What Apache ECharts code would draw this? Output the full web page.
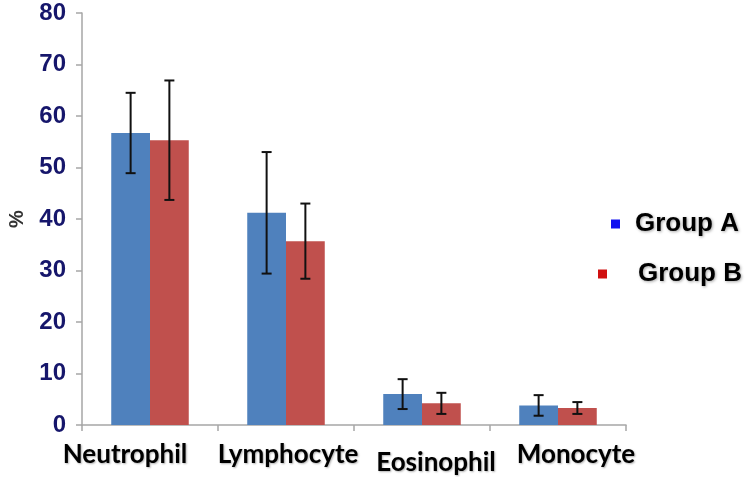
<!DOCTYPE html>
<html>
<head>
<meta charset="utf-8">
<script src="https://cdn.jsdelivr.net/npm/echarts@6/dist/echarts.min.js"></script>
<style>html,body{margin:0;padding:0;background:#fff}#c{width:750px;height:477px}</style>
</head>
<body>
<div id="c"></div>
<script>
const categories = ['Neutrophil', 'Lymphocyte', 'Eosinophil', 'Monocyte'];
const groupA = [56.7, 41.2, 6.0, 3.8];
const groupB = [55.3, 35.7, 4.2, 3.3];
const errA = [7.8, 11.8, 2.9, 2.0];
const errB = [11.6, 7.3, 2.05, 1.15];
const yTicks = [0, 10, 20, 30, 40, 50, 60, 70, 80];

const GAP = 0.43;
// per-label offsets (horizontal shift, vertical shift) to mimic the reference placement
const labelShift = [[-25, 0], [2, 0], [14, 4], [18, -1]];

function errorSeries(name, vals, errs, sign) {
  return {
    type: 'custom',
    name: name,
    z: 10,
    encode: { x: 0, y: 1 },
    data: vals.map((v, k) => [k, v, errs[k]]),
    renderItem: function (params, api) {
      const i = api.value(0), v = api.value(1), e = api.value(2);
      const band = api.size([1, 0])[0];
      const barW = band * (1 - GAP) / 2;
      const dx = sign * barW / 2;
      const t = api.coord([i, v + e]);
      const b = api.coord([i, v - e]);
      const x = t[0] + dx;
      const cap = 5;
      const st = { stroke: '#111', lineWidth: 2 };
      return {
        type: 'group',
        children: [
          { type: 'line', shape: { x1: x, y1: t[1], x2: x, y2: b[1] }, style: st },
          { type: 'line', shape: { x1: x - cap, y1: t[1], x2: x + cap, y2: t[1] }, style: st },
          { type: 'line', shape: { x1: x - cap, y1: b[1], x2: x + cap, y2: b[1] }, style: st }
        ]
      };
    }
  };
}

const legendText = {
  fontFamily: 'Liberation Sans', fontWeight: 'bold', fontSize: 26, color: '#000',
  textShadowColor: 'rgba(0,0,0,0.35)', textShadowBlur: 3, textShadowOffsetX: 1, textShadowOffsetY: 1
};

const option = {
  animation: false,
  backgroundColor: '#fff',
  grid: { left: 82, right: 124, top: 13, bottom: 52, containLabel: false, outerBoundsMode: 'none' },
  legend: [
    {
      left: 606, top: 206, itemWidth: 9, itemHeight: 9, icon: 'rect',
      data: [{ name: 'Group A', itemStyle: { color: '#1010f0' } }],
      textStyle: Object.assign({ padding: [0, 0, 0, 10] }, legendText)
    },
    {
      left: 593, top: 256, itemWidth: 9, itemHeight: 9, icon: 'rect',
      data: [{ name: 'Group B', itemStyle: { color: '#d01010' } }],
      textStyle: Object.assign({ padding: [0, 0, 0, 26] }, legendText)
    }
  ],
  xAxis: {
    type: 'category',
    data: categories.map((c, k) => {
      const s = labelShift[k];
      const pad = [Math.max(0, s[1] * 2), s[0] < 0 ? -2 * s[0] : 0, Math.max(0, -s[1] * 2), s[0] > 0 ? 2 * s[0] : 0];
      return { value: c, textStyle: { padding: pad } };
    }),
    axisLine: { lineStyle: { color: '#a6a6a6', width: 1.5 } },
    axisTick: { show: true, length: 6, lineStyle: { color: '#a6a6a6', width: 1.5 } },
    axisLabel: {
      interval: 0, margin: 17,
      fontFamily: 'Lato', fontWeight: 'bold', fontSize: 26, color: '#000',
      textShadowColor: 'rgba(0,0,0,0.3)', textShadowBlur: 2, textShadowOffsetX: 1, textShadowOffsetY: 1
    },
    splitLine: { show: false }
  },
  yAxis: {
    type: 'value',
    min: yTicks[0], max: yTicks[yTicks.length - 1], interval: 10,
    name: '%', nameLocation: 'middle', nameRotate: 90, nameGap: 55,
    nameTextStyle: { fontFamily: 'Liberation Sans', fontWeight: 'bold', fontSize: 20, color: '#333' },
    axisLine: { show: true, lineStyle: { color: '#a6a6a6', width: 1.5 } },
    axisTick: { show: true, length: 6, lineStyle: { color: '#a6a6a6', width: 1.5 } },
    axisLabel: {
      margin: 16,
      fontFamily: 'Liberation Sans', fontWeight: 'bold', fontSize: 24, color: '#16166b'
    },
    splitLine: { show: false }
  },
  series: [
    {
      type: 'bar', name: 'Group A', data: groupA,
      barGap: '0%', barCategoryGap: (GAP * 100) + '%',
      itemStyle: { color: '#4f81bd' }
    },
    {
      type: 'bar', name: 'Group B', data: groupB,
      barGap: '0%', barCategoryGap: (GAP * 100) + '%',
      itemStyle: { color: '#c0504d' }
    },
    errorSeries('errA', groupA, errA, -1),
    errorSeries('errB', groupB, errB, 1)
  ]
};

const chart = echarts.init(document.getElementById('c'), null, { renderer: 'canvas' });
chart.setOption(option);
</script>
</body>
</html>
